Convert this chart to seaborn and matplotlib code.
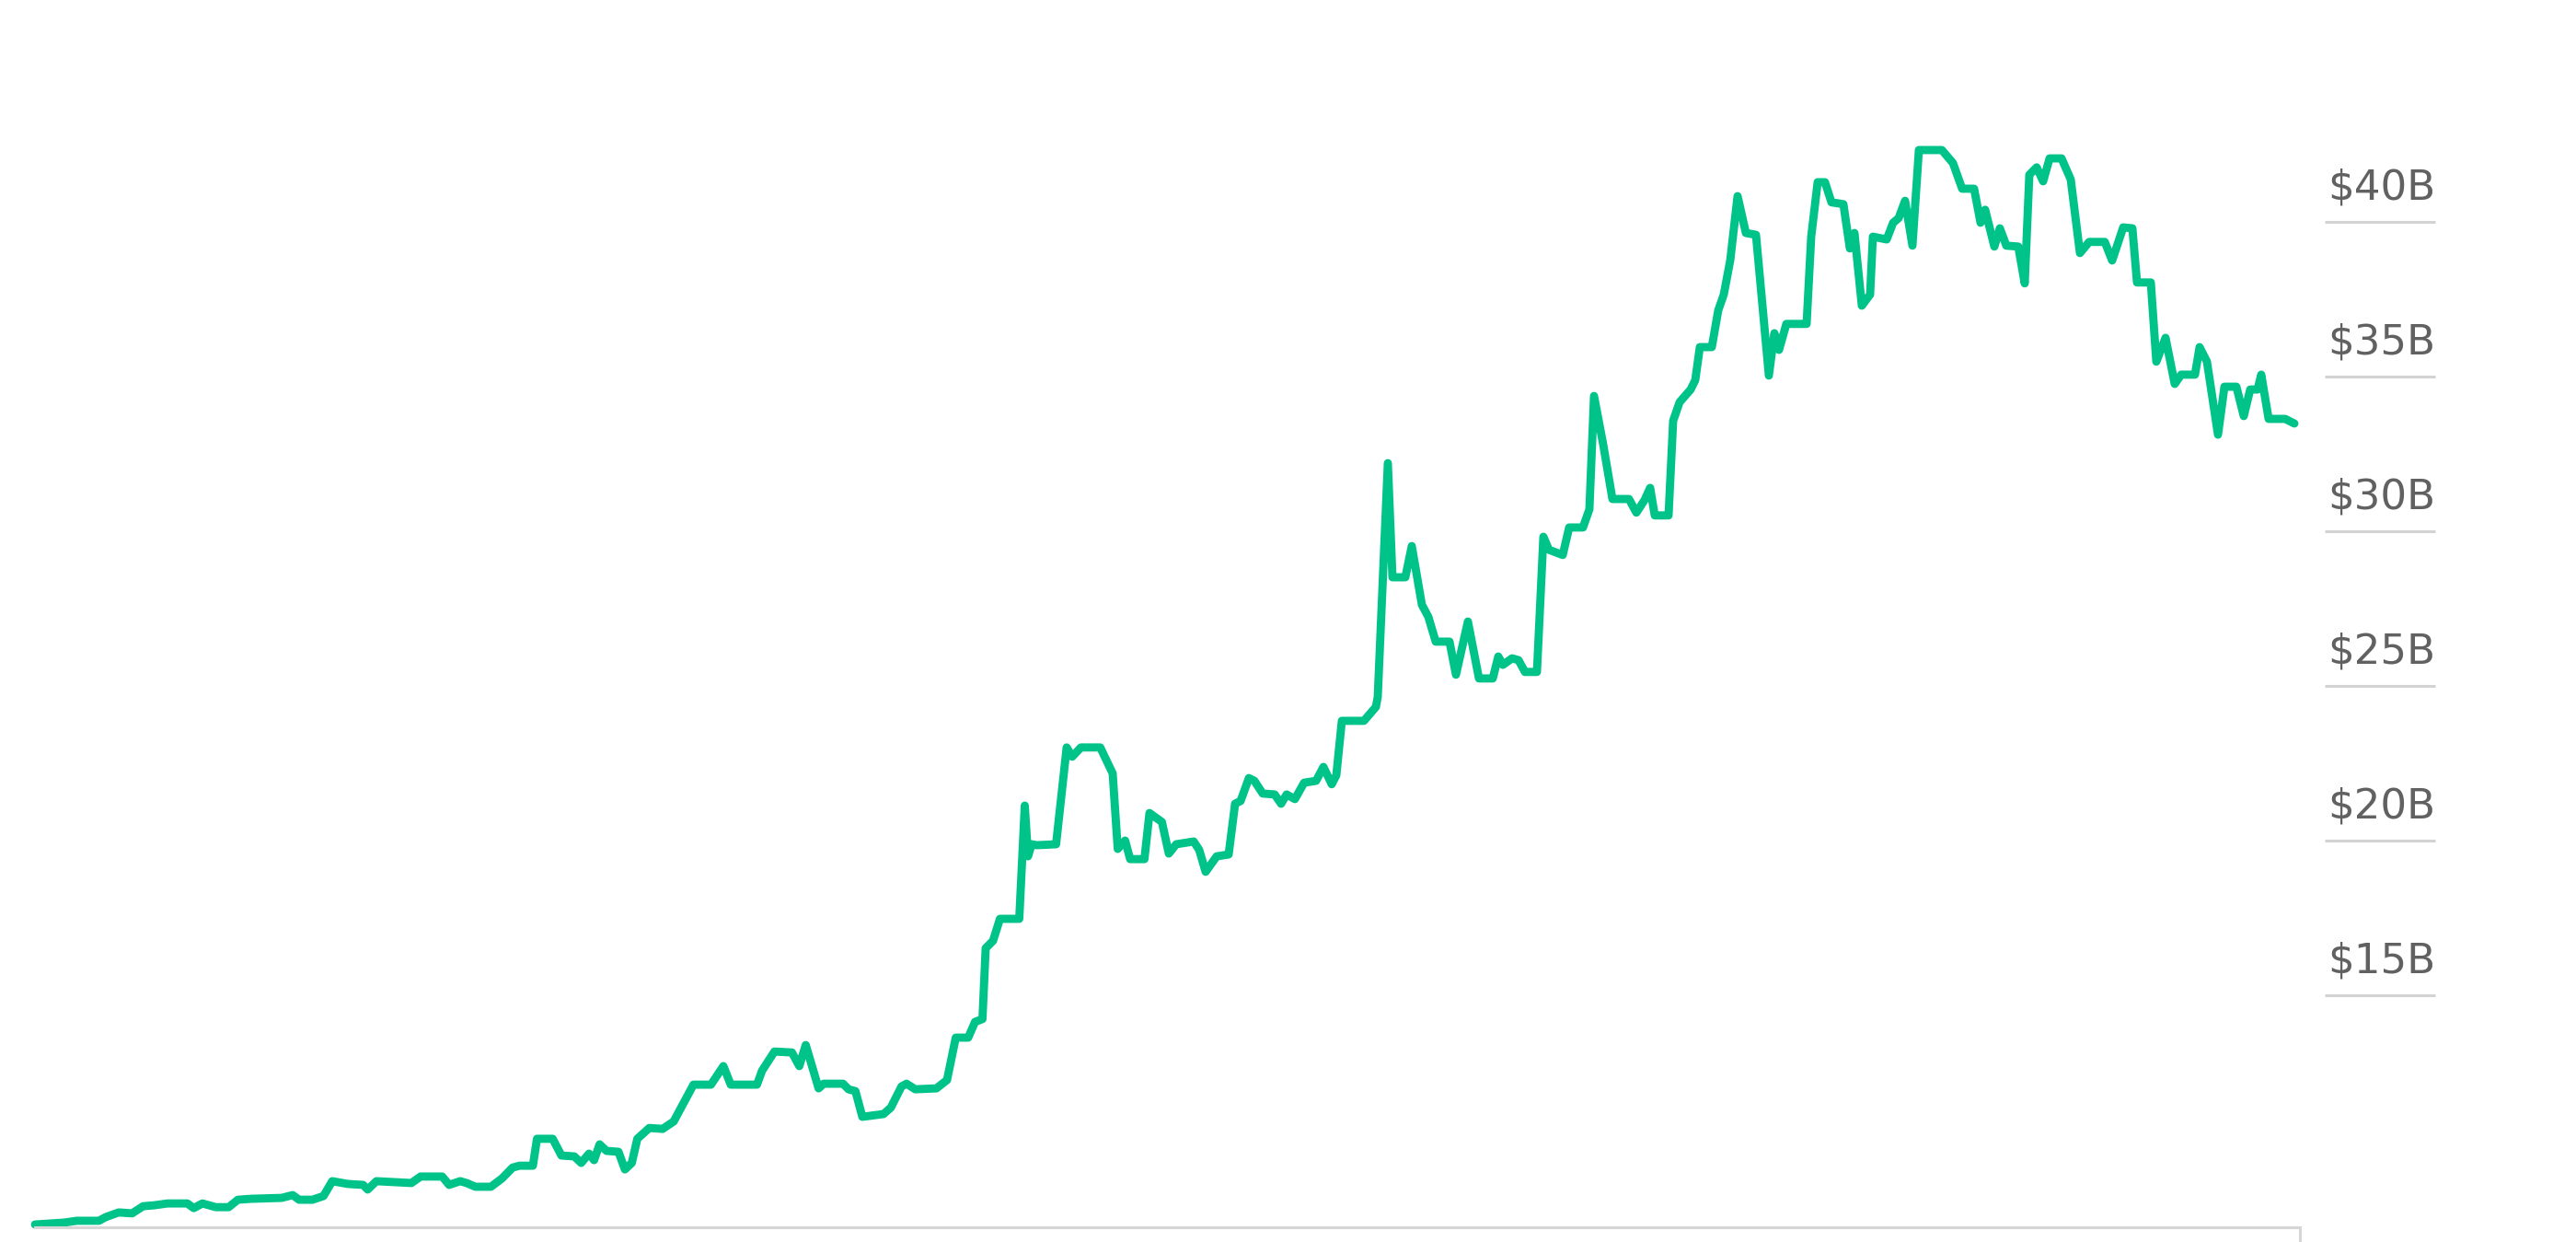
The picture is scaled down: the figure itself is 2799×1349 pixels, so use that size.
import matplotlib
matplotlib.use("Agg")
import matplotlib.pyplot as plt
import matplotlib.transforms as mtransforms
import pandas as pd
import seaborn as sns

# time axis in weeks from the first observation
weeks = [
    0.0, 6.3, 9.1, 13.9, 15.4, 18.2, 21.1, 23.5, 25.9, 28.8, 33.1, 34.5, 36.4, 39.3, 42.1,
    44.1, 46.9, 53.6, 56.0, 57.4, 60.3, 62.7, 64.6, 68.0, 71.3, 72.3, 74.2, 81.8, 83.8,
    88.5, 90.0, 92.4, 93.8, 95.7, 99.1, 101.5, 103.8, 105.3, 108.2, 109.1, 112.5, 114.4,
    117.2, 118.7, 120.4, 121.5, 122.7, 124.2, 126.8, 128.2, 129.7, 130.9, 133.5, 136.4,
    138.8, 143.1, 146.9, 149.6, 151.2, 156.9, 158.0, 160.7, 164.5, 166.1, 167.5, 170.3,
    171.4, 175.6, 176.8, 178.3, 179.8, 184.4, 186.0, 188.3, 189.4, 191.3, 195.9, 198.2,
    200.1, 202.8, 204.3, 205.9, 206.6, 208.2, 209.7, 213.9, 215.1, 215.8, 216.6, 217.7,
    221.9, 224.2, 225.4, 227.3, 231.5, 234.2, 235.3, 236.9, 238.0, 241.1, 242.2, 244.9,
    246.4, 248.0, 251.8, 253.0, 254.4, 256.8, 259.4, 260.8, 262.0, 263.8, 265.0, 266.8,
    269.4, 270.8, 272.0, 273.8, 275.8, 278.4, 280.0, 281.8, 282.8, 284.0, 288.8, 291.4,
    291.8, 294.0, 295.0, 297.8, 299.2, 301.4, 302.8, 304.4, 307.4, 308.8, 311.4, 313.8,
    316.8, 318.0, 319.0, 321.0, 322.4, 323.8, 326.4, 327.8, 329.0, 332.0, 333.4, 336.4,
    337.8, 338.8, 340.8, 342.8, 346.4, 348.0, 349.8, 351.0, 352.0, 355.0, 356.0, 357.4,
    359.8, 360.8, 361.8, 364.4, 365.8, 367.0, 368.4, 370.0, 371.8, 374.0, 376.8, 378.0,
    379.0, 380.6, 385.0, 386.0, 387.4, 389.0, 390.4, 393.0, 394.4, 395.4, 397.0, 398.8,
    399.4, 402.4, 403.8, 405.0, 406.4, 408.0, 409.4, 414.4, 416.8, 418.8, 421.4, 422.8,
    423.8, 425.8, 427.0, 428.4, 431.0, 432.4, 433.4, 435.0, 436.4, 437.8, 440.4, 442.4,
    444.4, 446.4, 449.8, 451.4, 453.8, 455.8, 456.8, 459.8, 461.0, 463.0, 465.0, 466.4,
    469.4, 470.4, 472.0, 474.4, 475.8, 478.4, 480.0, 481.4, 483.0, 483.8, 485.4, 489.0,
    491.0,
]

# net worth, billions of dollars
net_worth = [
    7.59, 7.65, 7.71, 7.71, 7.83, 7.98, 7.95, 8.18, 8.21, 8.27, 8.27, 8.12, 8.27, 8.15, 8.15,
    8.39, 8.42, 8.45, 8.54, 8.39, 8.39, 8.51, 8.99, 8.90, 8.87, 8.72, 8.99, 8.93, 9.14,
    9.14, 8.87, 8.99, 8.93, 8.81, 8.81, 9.08, 9.43, 9.49, 9.49, 10.36, 10.36, 9.82,
    9.79, 9.58, 9.88, 9.67, 10.18, 9.97, 9.94, 9.37, 9.58, 10.36, 10.71, 10.68,
    10.92, 12.11, 12.11, 12.71, 12.11, 12.11, 12.56, 13.18, 13.15, 12.71, 13.39, 11.99,
    12.14, 12.14, 11.96, 11.90, 11.07, 11.16, 11.37, 12.05, 12.14, 11.96, 11.99, 12.26,
    13.63, 13.63, 14.14, 14.23, 16.52, 16.76, 17.47, 17.47, 21.13, 19.49, 19.88, 19.85,
    19.88, 23.01, 22.71, 23.01, 23.01, 22.17, 19.73, 20.00, 19.40, 19.40, 20.89, 20.60,
    19.58, 19.88, 19.97, 19.70, 18.99, 19.49, 19.55, 21.19, 21.28, 22.02, 21.93, 21.52,
    21.49, 21.19, 21.49, 21.34, 21.87, 21.93, 22.38, 21.82, 22.11, 23.87, 23.87, 24.32,
    24.64, 32.20, 28.51, 28.51, 29.52, 27.62, 27.23, 26.43, 26.43, 25.36, 27.08, 25.24,
    25.24, 25.95, 25.68, 25.89, 25.83, 25.45, 25.45, 29.82, 29.40, 29.23, 30.12, 30.12,
    30.71, 34.37, 32.80, 31.04, 31.04, 30.60, 31.01, 31.40, 30.51, 30.51, 33.57, 34.17,
    34.58, 34.88, 35.95, 35.95, 37.14, 37.65, 38.75, 40.83, 39.64, 39.58, 35.03, 36.40,
    35.86, 36.70, 36.70, 39.52, 41.28, 41.28, 40.63, 40.57, 39.14, 39.64, 37.29, 37.65,
    39.52, 39.43, 39.97, 40.12, 40.68, 39.23, 42.32, 42.32, 41.90, 41.07, 41.07, 39.97,
    40.39, 39.20, 39.79, 39.23, 39.20, 38.01, 41.52, 41.76, 41.31, 42.05, 42.05, 41.37,
    38.99, 39.35, 39.35, 38.75, 39.82, 39.79, 38.04, 38.04, 35.48, 36.25, 34.76, 35.06,
    35.06, 35.95, 35.48, 33.12, 34.67, 34.67, 33.72, 34.58, 34.58, 35.06, 33.63, 33.63,
    33.48,
]

tick_values = [15, 20, 25, 30, 35, 40]
tick_labels = ["$15B", "$20B", "$25B", "$30B", "$35B", "$40B"]

sns.set_style("white")
plt.rcParams["font.family"] = ["DejaVu Sans"]

W, H = 2799, 1349
fig = plt.figure(figsize=(W / 100, H / 100), dpi=100)
ax = fig.add_axes([38 / W, 16 / H, (2499 - 38) / W, 1333 / H])

df = pd.DataFrame({"week": weeks, "worth": net_worth})
sns.lineplot(data=df, x="week", y="worth", ax=ax, color="#00c389", linewidth=6.4,
             estimator=None, sort=False, clip_on=False,
             solid_joinstyle="round", solid_capstyle="round")

# value labels on the right with a short rule under each
trans = mtransforms.blended_transform_factory(fig.transFigure, ax.transData)
for v, lab in zip(tick_values, tick_labels):
    ax.plot([2526 / W, 2646 / W], [v, v], transform=trans, color="#d3d3d3",
            linewidth=2.2, clip_on=False, solid_capstyle="butt")
    ax.annotate(lab, xy=(2529 / W, v), xycoords=trans, xytext=(0, 17.5),
                textcoords="offset points", ha="left", va="baseline",
                fontsize=32.5, color="#616161")

# small end tick at the right end of the baseline
ax.plot([492.2, 492.2], [7.5, 7.5 - 16 / 33.6], color="#d6d6d6", linewidth=2.2,
        clip_on=False, solid_capstyle="butt")

ax.set_xlim(0, 492.2)
ax.set_ylim(7.5, 47.17)
ax.set_xticks([])
ax.set_yticks([])
ax.set_xlabel("")
ax.set_ylabel("")
for side in ["top", "left", "right"]:
    ax.spines[side].set_visible(False)
ax.spines["bottom"].set_color("#d6d6d6")
ax.spines["bottom"].set_linewidth(2.2)
ax.patch.set_alpha(0)

fig.savefig("out.png", dpi=100, facecolor="white")
